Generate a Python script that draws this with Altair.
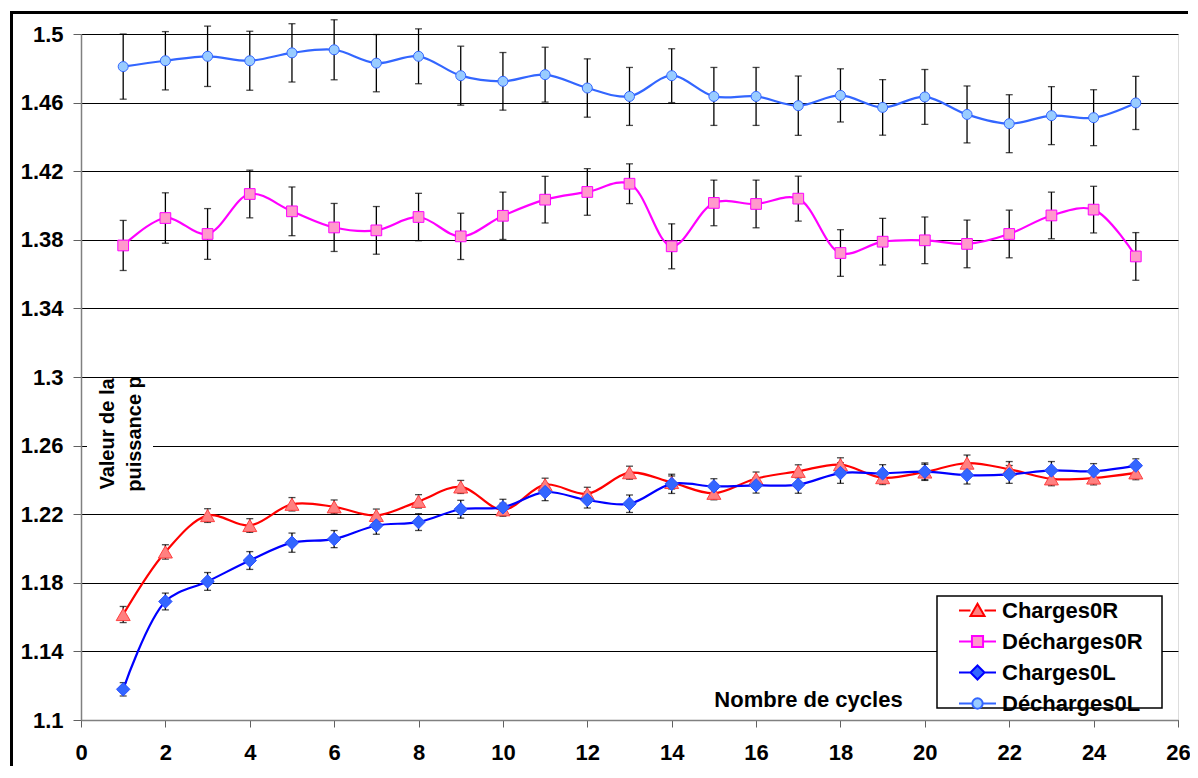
import altair as alt
import pandas as pd

# ---------------- data ----------------
cycles = list(range(1, 26))
series_names = ["Charges0R", "Décharges0R", "Charges0L", "Décharges0L"]

charges_0R = [1.1615, 1.198, 1.2192, 1.2134, 1.2258, 1.2243, 1.2193, 1.2275, 1.2359, 1.2226,
              1.2372, 1.2319, 1.2442, 1.2385, 1.2322, 1.2408, 1.245, 1.2489, 1.2413, 1.2446,
              1.2498, 1.2462, 1.2406, 1.2411, 1.2441]
charges_0R_err = [0.0047, 0.0042, 0.004, 0.004, 0.0039, 0.004, 0.0037, 0.0039, 0.0038, 0.0038,
                  0.0038, 0.0038, 0.0038, 0.0038, 0.0038, 0.0038, 0.0038, 0.004, 0.004, 0.0045,
                  0.0047, 0.0045, 0.004, 0.004, 0.004]

decharges_0R = [1.3767, 1.3927, 1.3834, 1.4067, 1.3966, 1.3872, 1.3855, 1.3933, 1.382, 1.394,
                1.4034, 1.4079, 1.4127, 1.3762, 1.4015, 1.4009, 1.404, 1.3723, 1.3789, 1.3797,
                1.3776, 1.3834, 1.3942, 1.3976, 1.3703]
decharges_0R_err = [0.0146, 0.0147, 0.0148, 0.0139, 0.0142, 0.014, 0.0139, 0.0138, 0.0135, 0.0138,
                    0.0136, 0.0136, 0.0116, 0.0131, 0.0133, 0.0139, 0.0131, 0.0136, 0.0136, 0.0136,
                    0.0139, 0.0139, 0.0136, 0.0136, 0.0139]

charges_0L = [1.1179, 1.1691, 1.1808, 1.193, 1.2034, 1.2055, 1.2134, 1.2154, 1.2229, 1.224,
              1.2329, 1.2283, 1.2261, 1.2377, 1.2362, 1.2368, 1.2372, 1.244, 1.2438, 1.2448,
              1.2428, 1.2432, 1.2455, 1.245, 1.2483]
charges_0L_err = [0.0039, 0.0049, 0.0052, 0.0052, 0.0056, 0.005, 0.0051, 0.0049, 0.0052, 0.0047,
                  0.005, 0.0047, 0.0051, 0.0056, 0.0045, 0.0045, 0.005, 0.006, 0.0051, 0.0051,
                  0.0052, 0.0052, 0.0052, 0.0045, 0.004]

decharges_0L = [1.481, 1.4844, 1.487, 1.4844, 1.489, 1.4908, 1.483, 1.487, 1.4757, 1.4724,
                1.4763, 1.4685, 1.4636, 1.4757, 1.4636, 1.4636, 1.4582, 1.4642, 1.4572, 1.4633,
                1.4531, 1.4477, 1.4524, 1.4512, 1.4598]
decharges_0L_err = [0.019, 0.017, 0.0176, 0.0172, 0.017, 0.0175, 0.0167, 0.016, 0.0172, 0.0168,
                    0.016, 0.017, 0.0169, 0.0157, 0.0169, 0.0169, 0.0173, 0.0155, 0.0162, 0.016,
                    0.0166, 0.0169, 0.0169, 0.0163, 0.0155]

x_ticks = [0, 2, 4, 6, 8, 10, 12, 14, 16, 18, 20, 22, 24, 26]
y_ticks = [1.1, 1.14, 1.18, 1.22, 1.26, 1.3, 1.34, 1.38, 1.42, 1.46, 1.5]

# ---------------- styles ----------------
line_colors = ["#FF0000", "#FF00FF", "#0000FF", "#3366FF"]
marker_fills = ["#FF8080", "#FF99CC", "#3366FF", "#99CCFF"]
marker_strokes = ["#FF4040", "#FF00FF", "#2A4FFF", "#3366FF"]
marker_shapes = ["triangle-up", "square", "diamond", "circle"]
marker_sizes = [196, 115, 180, 100]
legend_paths = [
    "M-1,0H-0.38M0.38,0H1M0,-0.36L0.38,0.3L-0.38,0.3Z",
    "M-1,0H-0.3M0.3,0H1M-0.3,-0.3H0.3V0.3H-0.3Z",
    "M-1,0H-0.38M0.38,0H1M0,-0.38L0.38,0L0,0.38L-0.38,0Z",
    "M-1,0H-0.28M0.28,0H1M-0.28,0A0.28,0.28 0 1,0 0.28,0A0.28,0.28 0 1,0 -0.28,0Z",
]

FONT = "Liberation Sans"
W, H = 1097, 686

values = [charges_0R, decharges_0R, charges_0L, decharges_0L]
errors = [charges_0R_err, decharges_0R_err, charges_0L_err, decharges_0L_err]
rows = []
for name, vals, errs in zip(series_names, values, errors):
    for c, v, e in zip(cycles, vals, errs):
        rows.append({"series": name, "cycle": c, "value": v, "lo": v - e, "hi": v + e})
df = pd.DataFrame(rows)

x_scale = alt.Scale(domain=[0, 26], nice=False, zero=False)
y_scale = alt.Scale(domain=[1.1, 1.5], nice=False, zero=False)

x_enc = alt.X(
    "cycle:Q", scale=x_scale,
    axis=alt.Axis(values=x_ticks, title="Nombre de cycles", titleX=727, titleY=-14,
                  titleAlign="center", titleBaseline="alphabetic", titleAngle=0,
                  titleFontSize=22, titleFontWeight="bold", titleFont=FONT, titleColor="black",
                  labelFontSize=22, labelFontWeight="bold", labelFont=FONT, labelColor="black",
                  labelPadding=15, tickSize=7, tickColor="#606060", domainColor="#808080",
                  domainWidth=1.5, grid=False, labelFlush=False),
)
y_axis = alt.Axis(values=y_ticks, format="~g", title=None,
                  labelFontSize=22, labelFontWeight="bold", labelFont=FONT, labelColor="black",
                  labelPadding=10, tickSize=8, tickColor="#606060", domainColor="#808080",
                  domainWidth=1.5, grid=True, gridColor="black", gridWidth=1, gridOpacity=1,
                  labelFlush=False)

base = alt.Chart(df)

# error bars
err_rule = base.mark_rule(color="black", strokeWidth=1.3).encode(
    x=x_enc, y=alt.Y("lo:Q", scale=y_scale, axis=y_axis), y2="hi:Q")
cap_hi = base.mark_tick(color="black", thickness=1.3, size=7, orient="horizontal").encode(
    x="cycle:Q", y="hi:Q")
cap_lo = base.mark_tick(color="black", thickness=1.3, size=7, orient="horizontal").encode(
    x="cycle:Q", y="lo:Q")

layers = [err_rule, cap_hi, cap_lo]
for i, name in enumerate(series_names):
    sub = base.transform_filter(alt.datum.series == name)
    layers.append(sub.mark_line(color=line_colors[i], strokeWidth=2.2,
                                interpolate="catmull-rom").encode(x="cycle:Q", y="value:Q"))
    layers.append(sub.mark_point(filled=True, shape=marker_shapes[i], size=marker_sizes[i],
                                 fill=marker_fills[i], stroke=marker_strokes[i],
                                 strokeWidth=1, opacity=1).encode(x="cycle:Q", y="value:Q"))

# legend (drawn from invisible, clipped points)
leg_df = pd.DataFrame({"series": series_names, "cycle": [-3] * 4, "value": [1.3] * 4})
legend = alt.Legend(orient="none", legendX=877, legendY=557, title=None,
                    labelFont=FONT, labelFontSize=22, labelFontWeight="bold", labelColor="black",
                    symbolSize=1369, symbolStrokeWidth=2, labelOffset=5, rowPadding=-3,
                    padding=0, labelLimit=400)
legend_layer = alt.Chart(leg_df).mark_point(filled=True, opacity=1, clip=True).encode(
    x="cycle:Q", y="value:Q",
    shape=alt.Shape("series:N", scale=alt.Scale(domain=series_names, range=legend_paths),
                    legend=legend),
    fill=alt.Fill("series:N", scale=alt.Scale(domain=series_names, range=marker_fills),
                  legend=legend),
    stroke=alt.Stroke("series:N", scale=alt.Scale(domain=series_names, range=line_colors),
                      legend=legend),
)

one = alt.Chart(pd.DataFrame({"k": [0]}))
legend_box = one.mark_rect(fill="white", stroke="black", strokeWidth=1.5).encode(
    x=alt.value(856), x2=alt.value(1081), y=alt.value(562), y2=alt.value(674))
title_box = one.mark_rect(fill="white").encode(
    x=alt.value(6), x2=alt.value(72), y=alt.value(344), y2=alt.value(456))
y_title = one.mark_text(text=["Valeur de la", "puissance p"], angle=270, align="center",
                        baseline="middle", font=FONT, fontSize=20, fontWeight="bold",
                        lineHeight=27, color="black").encode(
    x=alt.value(27), y=alt.value(400))
frame_left = one.mark_rect(fill="black").encode(
    x=alt.value(-71), x2=alt.value(-68), y=alt.value(-23), y2=alt.value(H + 46))
frame_top = one.mark_rect(fill="black").encode(
    x=alt.value(-71), x2=alt.value(W + 10), y=alt.value(-23), y2=alt.value(-20))

chart = alt.layer(
    title_box, *layers, legend_layer, legend_box, y_title, frame_left, frame_top
).properties(
    width=W, height=H,
    autosize=alt.AutoSizeParams(type="none"),
    padding={"left": 73, "top": 26, "right": 12, "bottom": 48},
    background="white",
).configure_view(
    stroke="#A0A0A0", strokeWidth=2,
).configure(font=FONT)

chart.save("out.html", embed_options={"renderer": "svg", "actions": False})
